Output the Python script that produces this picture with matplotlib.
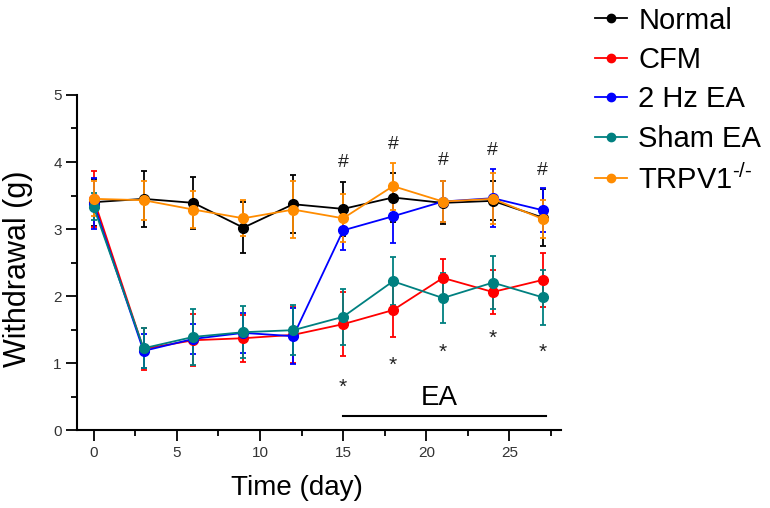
import matplotlib
matplotlib.use("Agg")
import matplotlib.pyplot as plt
from matplotlib.lines import Line2D
from matplotlib.ticker import MultipleLocator

plt.rcParams['font.family'] = ['Liberation Sans', 'DejaVu Sans']
plt.rcParams['mathtext.fontset'] = 'custom'
plt.rcParams['mathtext.rm'] = 'Liberation Sans'
plt.rcParams['mathtext.it'] = 'Liberation Sans'

# data
days = [0, 3, 6, 9, 12, 15, 18, 21, 24, 27]
normal = [3.40, 3.45, 3.39, 3.02, 3.37, 3.30, 3.47, 3.39, 3.42, 3.17]
normal_err = [0.35, 0.42, 0.39, 0.38, 0.43, 0.40, 0.36, 0.32, 0.29, 0.42]
cfm = [3.45, 1.21, 1.34, 1.37, 1.42, 1.58, 1.79, 2.27, 2.06, 2.24]
cfm_err = [0.42, 0.32, 0.39, 0.35, 0.42, 0.48, 0.40, 0.28, 0.33, 0.40]
ea2hz = [3.38, 1.18, 1.36, 1.45, 1.40, 2.98, 3.19, 3.41, 3.46, 3.28]
ea2hz_err = [0.38, 0.25, 0.22, 0.30, 0.42, 0.30, 0.40, 0.30, 0.43, 0.33]
sham = [3.33, 1.22, 1.39, 1.46, 1.49, 1.69, 2.22, 1.97, 2.20, 1.98]
sham_err = [0.20, 0.30, 0.42, 0.39, 0.37, 0.42, 0.36, 0.37, 0.39, 0.41]
trpv1 = [3.45, 3.43, 3.29, 3.16, 3.29, 3.16, 3.64, 3.41, 3.45, 3.15]
trpv1_err = [0.26, 0.29, 0.28, 0.27, 0.42, 0.36, 0.35, 0.30, 0.38, 0.28]

labels = ['Normal', 'CFM', '2 Hz EA', 'Sham EA', r'TRPV1$^{\text{-/-}}$']
colors = ['black', '#ff0000', '#0000ff', '#008080', '#ff8c00']

# significance marks
sig_days = [15, 18, 21, 24, 27]
hash_y = [4.03, 4.30, 4.05, 4.21, 3.91]
star_y = [0.72, 1.06, 1.25, 1.45, 1.25]

fig = plt.figure(figsize=(7.7, 5.08), dpi=100)
ax = fig.add_axes([0.1, 0.1535, 0.6286, 0.6595])

series = [(normal, normal_err), (cfm, cfm_err), (ea2hz, ea2hz_err),
          (sham, sham_err), (trpv1, trpv1_err)]
for (vals, errs), col in zip(series, colors):
    ax.errorbar(days, vals, yerr=errs, color=col, marker='o', markersize=7,
                lw=1.3, elinewidth=1.3, capsize=2.5, capthick=1.3)

# # and * marks
for d, y in zip(sig_days, hash_y):
    ax.text(d, y - 0.1, '#', ha='center', va='baseline', fontsize=14, color='#222222')
for d, y in zip(sig_days, star_y):
    ax.text(d, y - 0.17, '*', ha='center', va='baseline', fontsize=15, color='#222222')

# EA period bar
ax.plot([15, 27.2], [0.21, 0.21], color='black', lw=1.5)
ax.text(20.8, 0.48, 'EA', ha='center', va='center', fontsize=20)

ax.set_xlim(-1, 28.1)
ax.set_ylim(0, 5)
ax.xaxis.set_major_locator(MultipleLocator(5))
ax.xaxis.set_minor_locator(MultipleLocator(2.5))
ax.yaxis.set_major_locator(MultipleLocator(1))
ax.yaxis.set_minor_locator(MultipleLocator(0.5))
ax.tick_params(which='major', length=8, width=1.3, labelsize=11, labelcolor='#333333')
ax.tick_params(which='minor', length=4.5, width=1.3)
ax.tick_params(axis='y', pad=3)
for s in ['top', 'right']:
    ax.spines[s].set_visible(False)
for s in ['left', 'bottom']:
    ax.spines[s].set_linewidth(1.5)

ax.set_ylabel('Withdrawal (g)', fontsize=22)
ax.yaxis.set_label_coords(-0.09, 0.48)
ax.set_xlabel('Time (day)', fontsize=20)
ax.xaxis.set_label_coords(0.455, -0.135)

handles = [Line2D([], [], color=c, marker='o', markersize=6, lw=1.3) for c in colors]
fig.legend(handles, labels, loc='upper left', bbox_to_anchor=(0.757, 1.01),
           frameon=False, fontsize=21, handlelength=1.1, handletextpad=0.4,
           labelspacing=0.39, borderaxespad=0)

fig.savefig('out.png', dpi=100)
